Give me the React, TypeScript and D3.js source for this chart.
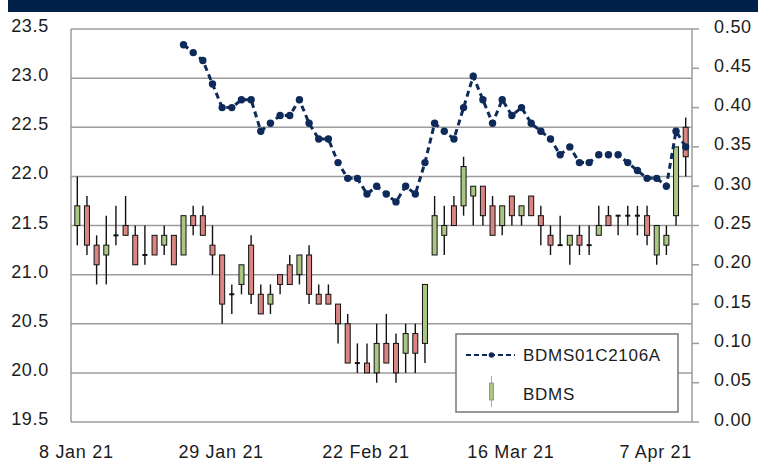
import React from "react";
import * as d3 from "d3";

// ---- Data ----
const dates = [
  "2021-01-08","2021-01-11","2021-01-12","2021-01-13","2021-01-14","2021-01-15",
  "2021-01-18","2021-01-19","2021-01-20","2021-01-21","2021-01-22",
  "2021-01-25","2021-01-26","2021-01-27","2021-01-28","2021-01-29",
  "2021-02-01","2021-02-02","2021-02-03","2021-02-04","2021-02-05",
  "2021-02-08","2021-02-09","2021-02-10","2021-02-11",
  "2021-02-15","2021-02-16","2021-02-17","2021-02-18","2021-02-19",
  "2021-02-22","2021-02-23","2021-02-24","2021-02-25",
  "2021-03-01","2021-03-02","2021-03-03","2021-03-04","2021-03-05",
  "2021-03-08","2021-03-09","2021-03-10","2021-03-11","2021-03-12",
  "2021-03-15","2021-03-16","2021-03-17","2021-03-18","2021-03-19",
  "2021-03-22","2021-03-23","2021-03-24","2021-03-25","2021-03-26",
  "2021-03-29","2021-03-30","2021-03-31","2021-04-01","2021-04-02",
  "2021-04-05","2021-04-07","2021-04-08","2021-04-09","2021-04-16",
];

const open = [
  21.5,21.7,21.3,21.2,21.4,21.5,21.4,21.2,21.4,21.3,21.4,21.2,21.6,21.6,21.3,21.2,
  20.8,20.9,21.3,20.8,20.7,21.0,21.1,21.0,21.2,20.8,20.8,20.7,20.5,20.1,20.1,20.0,
  20.3,20.3,20.2,20.4,20.3,21.2,21.4,21.7,21.7,21.8,21.9,21.7,21.5,21.8,21.6,21.8,
  21.6,21.4,21.3,21.3,21.4,21.3,21.4,21.6,21.6,21.6,21.6,21.6,21.2,21.3,21.6,22.5,
];
const high = [
  22.0,21.8,21.4,21.6,21.7,21.8,21.5,21.5,21.4,21.5,21.4,21.6,21.7,21.7,21.5,21.2,
  20.9,21.1,21.4,20.9,20.9,21.0,21.2,21.2,21.3,20.9,20.9,20.7,20.6,20.3,20.3,20.5,
  20.6,20.4,20.5,20.5,20.9,21.8,21.7,21.8,22.2,21.9,21.9,21.8,21.7,21.8,21.7,21.8,
  21.7,21.5,21.6,21.4,21.5,21.5,21.7,21.7,21.6,21.7,21.7,21.7,21.5,21.5,22.3,22.6,
];
const low = [
  21.3,21.2,20.9,20.9,21.3,21.4,21.1,21.1,21.2,21.2,21.1,21.2,21.4,21.4,21.0,20.5,
  20.6,20.8,20.7,20.6,20.6,20.8,20.9,20.9,20.7,20.7,20.7,20.3,20.1,20.0,20.0,19.9,
  20.1,19.9,20.0,20.0,20.1,21.2,21.2,21.5,21.6,21.5,21.5,21.4,21.4,21.5,21.5,21.6,
  21.3,21.2,21.3,21.1,21.2,21.2,21.4,21.5,21.4,21.5,21.4,21.3,21.1,21.2,21.5,22.0,
];
const close = [
  21.7,21.3,21.1,21.3,21.4,21.4,21.1,21.2,21.2,21.4,21.1,21.6,21.5,21.4,21.2,20.7,
  20.8,21.1,20.8,20.6,20.8,20.9,20.9,21.2,20.8,20.7,20.7,20.5,20.1,20.1,20.0,20.3,
  20.1,20.0,20.4,20.2,20.9,21.6,21.5,21.5,22.1,21.9,21.6,21.4,21.7,21.6,21.7,21.6,
  21.5,21.3,21.3,21.4,21.3,21.3,21.5,21.5,21.6,21.6,21.6,21.4,21.5,21.4,22.3,22.2,
];
const warrant: (number | null)[] = [
  null,null,null,null,null,null,null,null,null,null,null,
  0.48,0.47,0.46,0.43,0.40,0.40,0.41,0.41,0.37,0.38,
  0.39,0.39,0.41,0.38,0.36,0.36,0.33,0.31,0.31,0.29,
  0.30,0.29,0.28,0.30,0.29,0.33,0.38,0.37,0.36,0.40,
  0.44,0.41,0.38,0.41,0.39,0.40,0.38,0.37,0.36,0.34,
  0.35,0.33,0.33,0.34,0.34,0.34,0.33,0.32,0.31,0.31,
  0.30,0.37,0.35,
];

const leftTicks = [19.5, 20.0, 20.5, 21.0, 21.5, 22.0, 22.5, 23.0, 23.5];
const rightTicks = [0, 0.05, 0.1, 0.15, 0.2, 0.25, 0.3, 0.35, 0.4, 0.45, 0.5];
const xTickDates = ["2021-01-08", "2021-01-29", "2021-02-22", "2021-03-16", "2021-04-07"];
const xTickLabels = ["8 Jan 21", "29 Jan 21", "22 Feb 21", "16 Mar 21", "7 Apr 21"];
const seriesNames = ["BDMS01C2106A", "BDMS"];

// ---- Styles ----
const NAVY = "#0e2a5a";
const GREEN = "#a9c782";
const RED = "#d98582";
const GRID = "#9c9c9c";
const FONT = "'Liberation Sans', Arial, sans-serif";

export default function App() {
  const W = 758, H = 463;
  const plotL = 71, plotR = 692, plotT = 29, plotB = 422;

  const x = d3.scalePoint<string>().domain(dates).range([77.3, 685.7]);
  const yL = d3.scaleLinear().domain([19.5, 23.5]).range([plotB, plotT]);
  const yR = d3.scaleLinear().domain([0, 0.5]).range([plotB, plotT]);

  const lineData = dates
    .map((d, i) => ({ d, v: warrant[i] }))
    .filter((p) => p.v !== null) as { d: string; v: number }[];
  const line = d3
    .line<{ d: string; v: number }>()
    .x((p) => x(p.d)!)
    .y((p) => yR(p.v));

  const bw = 5;
  const textStyle = { fontFamily: FONT, fontSize: 18, fill: "#1c1c1c", letterSpacing: 0.7 } as const;

  return (
    <svg
      width={W}
      height={H}
      style={{ position: "absolute", left: 0, top: 0, background: "#fff" }}
    >
      <rect x={0} y={0} width={W} height={H} fill="#fff" />
      <rect x={8} y={0} width={W - 8} height={12} fill="#01204a" />

      {/* grid lines */}
      {leftTicks.map((t) => (
        <line key={t} x1={plotL} x2={plotR} y1={yL(t)} y2={yL(t)} stroke={GRID} strokeWidth={1.5} />
      ))}
      {/* axes */}
      <line x1={plotL} x2={plotL} y1={plotT} y2={plotB} stroke={GRID} strokeWidth={1.5} />
      <line x1={plotR} x2={plotR} y1={plotT} y2={plotB} stroke={GRID} strokeWidth={1.5} />
      {rightTicks.map((t) => (
        <line key={t} x1={plotR} x2={plotR + 7} y1={yR(t)} y2={yR(t)} stroke={GRID} strokeWidth={1.5} />
      ))}

      {/* left labels */}
      {leftTicks.map((t) => (
        <text key={t} x={49} y={yL(t) + 3} textAnchor="end" {...textStyle}>
          {t.toFixed(1)}
        </text>
      ))}
      {/* right labels */}
      {rightTicks.map((t) => (
        <text key={t} x={714} y={yR(t) + 3.5} textAnchor="start" {...textStyle}>
          {t.toFixed(2)}
        </text>
      ))}
      {/* x labels */}
      {xTickDates.map((d, i) => (
        <text key={d} x={x(d)! - 1} y={458} textAnchor="middle" {...textStyle}>
          {xTickLabels[i]}
        </text>
      ))}

      {/* candles */}
      {dates.map((d, i) => {
        const cx = x(d)!;
        const up = close[i] > open[i];
        const top = yL(Math.max(open[i], close[i]));
        const bot = yL(Math.min(open[i], close[i]));
        const doji = open[i] === close[i];
        return (
          <g key={d}>
            <line x1={cx} x2={cx} y1={yL(high[i])} y2={yL(low[i])} stroke="#111" strokeWidth={1.4} />
            {doji ? (
              <rect x={cx - bw / 2} y={top - 1} width={bw} height={2} fill="#111" />
            ) : (
              <rect
                x={cx - bw / 2}
                y={top}
                width={bw}
                height={bot - top}
                fill={up ? GREEN : RED}
                stroke="#111"
                strokeWidth={1}
              />
            )}
          </g>
        );
      })}

      {/* warrant line */}
      <path d={line(lineData)!} fill="none" stroke={NAVY} strokeWidth={3} strokeDasharray="6,4" />
      {lineData.map((p) => (
        <circle key={p.d} cx={x(p.d)!} cy={yR(p.v)} r={3.7} fill={NAVY} />
      ))}

      {/* legend */}
      <rect x={456} y={334} width={222} height={78} fill="#fff" stroke="#777" strokeWidth={1.5} />
      <line x1={466} x2={515} y1={355} y2={355} stroke={NAVY} strokeWidth={1.8} strokeDasharray="5,3" />
      <circle cx={491.5} cy={355} r={2.8} fill={NAVY} />
      <text x={523} y={361} {...textStyle} fontSize={17}>
        {seriesNames[0]}
      </text>
      <line x1={491.5} x2={491.5} y1={376} y2={407} stroke="#aaa" strokeWidth={1} />
      <rect x={489.5} y={383} width={4} height={17} fill={GREEN} stroke="#888" strokeWidth={0.8} />
      <text x={523} y={400} {...textStyle} fontSize={17}>
        {seriesNames[1]}
      </text>
    </svg>
  );
}
